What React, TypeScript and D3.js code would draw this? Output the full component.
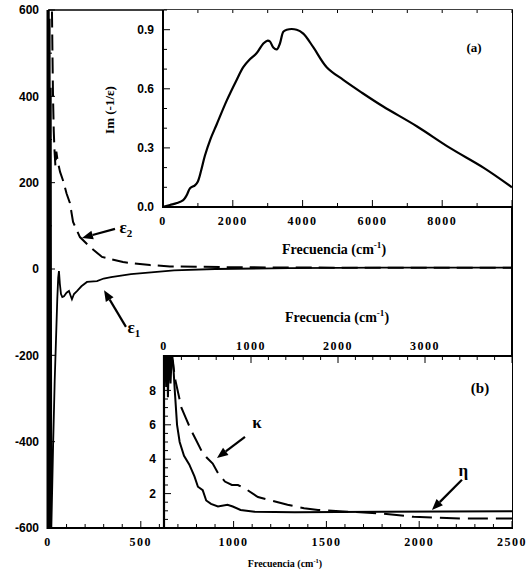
import * as d3 from "d3";

// main panel: real and imaginary parts of the dielectric function
const eps1: [number, number][] = [
  [0, -600], [3, 600], [6, -600], [9, 580], [12, -600], [15, 420], [18, -600],
  [28, -400], [36, -260], [43, -165], [50, -70], [55, -20], [59, -5], [64, -35],
  [70, -58], [77, -65], [86, -63], [100, -55], [113, -51], [122, -62], [129, -70],
  [140, -58], [156, -51], [180, -40], [210, -30], [264, -28], [300, -22], [340, -19],
  [447, -12], [571, -7], [679, -3], [900, 0], [1300, 2], [1800, 3], [2500, 3]
];

const eps2: [number, number][] = [
  [20, 650], [24, 500], [27, 400], [31, 320], [35, 275], [40, 238], [45, 272],
  [52, 250], [65, 225], [81, 205], [100, 175], [118, 153], [135, 109], [172, 74],
  [226, 51], [291, 28], [404, 16], [550, 9], [657, 6], [1000, 4], [1600, 3], [2500, 3]
];

// inset (a): loss function
const loss: [number, number][] = [
  [0, 0], [200, 0.01], [400, 0.02], [580, 0.035], [680, 0.06], [775, 0.095], [915, 0.11],
  [1000, 0.13], [1100, 0.19], [1200, 0.26], [1350, 0.34], [1540, 0.42], [1825, 0.54],
  [2110, 0.645], [2300, 0.71], [2490, 0.75], [2680, 0.78], [2875, 0.83], [3000, 0.845],
  [3065, 0.84], [3160, 0.81], [3260, 0.8], [3350, 0.83], [3450, 0.89], [3545, 0.9],
  [3830, 0.9], [4020, 0.88], [4310, 0.81], [4690, 0.71], [5165, 0.645], [5700, 0.58],
  [6310, 0.51], [7270, 0.41], [8220, 0.3], [9180, 0.2], [10000, 0.1]
];

// inset (b): optical constants
const eta: [number, number][] = [
  [15, 10.5], [25, 8.2], [35, 10.5], [45, 7.6], [60, 10.5], [75, 8.4], [90, 10.2],
  [105, 9.6], [125, 7.9], [150, 6.0], [180, 5.0], [230, 4.2], [290, 3.7], [350, 3.0],
  [390, 2.4], [445, 2.2], [485, 1.6], [540, 1.4], [620, 1.25], [730, 1.35], [790, 1.25],
  [880, 1.05], [1040, 0.95], [1500, 0.92], [2500, 0.95], [4000, 0.97]
];

const kappa: [number, number][] = [
  [60, 10.2], [100, 9.7], [130, 8.6], [165, 7.8], [200, 7.0], [250, 6.4], [310, 5.7],
  [370, 5.1], [430, 4.5], [490, 4.1], [560, 3.75], [620, 3.2], [700, 2.7], [780, 2.5],
  [850, 2.5], [960, 2.2], [1080, 1.8], [1230, 1.6], [1420, 1.35], [1610, 1.15],
  [1770, 1.05], [2110, 0.95], [2490, 0.85], [2870, 0.65], [3440, 0.55], [4000, 0.55]
];

const mainFreqTicks = [0, 500, 1000, 1500, 2000, 2500];
const mainValueTicks = [-600, -400, -200, 0, 200, 400, 600];
const lossFreqTicks = [0, 2000, 4000, 6000, 8000];
const lossTicks = [0, 0.3, 0.6, 0.9];
const indexFreqTicks = [0, 1000, 2000, 3000];
const indexTicks = [2, 4, 6, 8];

const serif = "'Liberation Serif', 'DejaVu Serif', serif";
const sans = "'Liberation Sans', Arial, sans-serif";

const xMain = d3.scaleLinear().domain([0, 2500]).range([48, 512]);
const yMain = d3.scaleLinear().domain([-600, 600]).range([528, 10]);
const xA = d3.scaleLinear().domain([0, 10000]).range([163, 512]);
const yA = d3.scaleLinear().domain([0, 1]).range([207, 10]);
const xB = d3.scaleLinear().domain([0, 4000]).range([164, 512]);
const yB = d3.scaleLinear().domain([0, 10]).range([528, 356]);

function path(
  data: [number, number][],
  x: d3.ScaleLinear<number, number>,
  y: d3.ScaleLinear<number, number>,
  curve: d3.CurveFactory = d3.curveLinear
): string {
  return (
    d3
      .line<[number, number]>()
      .curve(curve)
      .x((d) => x(d[0]))
      .y((d) => y(d[1]))(data) ?? ""
  );
}

function Arrow({ x1, y1, x2, y2 }: { x1: number; y1: number; x2: number; y2: number }) {
  const dx = x2 - x1;
  const dy = y2 - y1;
  const len = Math.hypot(dx, dy);
  const ux = dx / len;
  const uy = dy / len;
  const hl = 11;
  const hw = 4.5;
  const bx = x2 - ux * hl;
  const by = y2 - uy * hl;
  const pts = [
    [x2, y2],
    [bx - uy * hw, by + ux * hw],
    [bx + uy * hw, by - ux * hw]
  ]
    .map((p) => p.join(","))
    .join(" ");
  return (
    <g>
      <line x1={x1} y1={y1} x2={bx} y2={by} stroke="#000" strokeWidth={2.2} />
      <polygon points={pts} fill="#000" />
    </g>
  );
}

function FreqTitle({ x, y, size }: { x: number; y: number; size: number }) {
  return (
    <text
      x={x}
      y={y}
      textAnchor="middle"
      fontFamily={serif}
      fontWeight="bold"
      fontSize={size}
    >
      Frecuencia (cm
      <tspan fontSize={size * 0.65} dy={-size * 0.4}>
        -1
      </tspan>
      <tspan dy={size * 0.4}>)</tspan>
    </text>
  );
}

export default function App() {
  const mainMinorX = d3.range(0, 2501, 100);
  const mainMinorY = d3.range(-600, 601, 100);
  const aMinorX = d3.range(0, 10001, 1000);
  const aMinorY = d3.range(0, 1.001, 0.1);
  const bMinorX = d3.range(0, 4001, 200);
  const bMinorY = d3.range(0, 10.01, 0.5);

  return (
    <svg
      width={528}
      height={575}
      viewBox="0 0 528 575"
      style={{ position: "absolute", left: 0, top: 0, background: "#fff" }}
    >
      <defs>
        <clipPath id="clip-main">
          <rect x={48} y={10} width={464} height={518} />
        </clipPath>
        <clipPath id="clip-a">
          <rect x={163} y={10} width={349} height={197} />
        </clipPath>
        <clipPath id="clip-b">
          <rect x={164} y={356} width={348} height={172} />
        </clipPath>
      </defs>
      <rect width={528} height={575} fill="#fff" />

      {/* main panel curves */}
      <g clipPath="url(#clip-main)" fill="none" stroke="#000">
        <path d={path(eps1, xMain, yMain)} strokeWidth={1.8} />
        <path d={path(eps2, xMain, yMain)} strokeWidth={2} strokeDasharray="16 7" />
      </g>

      {/* main frame */}
      <line x1={48} x2={48} y1={10} y2={529} stroke="#000" strokeWidth={3} />
      <line x1={47} x2={513} y1={528} y2={528} stroke="#000" strokeWidth={2} />
      <line x1={48} x2={513} y1={10} y2={10} stroke="#000" strokeWidth={1.5} />
      <line x1={512} x2={512} y1={10} y2={529} stroke="#000" strokeWidth={2} />

      {mainMinorY.map((t) => (
        <line
          key={`my${t}`}
          x1={49}
          x2={49 + (t % 200 === 0 ? 6 : 3)}
          y1={yMain(t)}
          y2={yMain(t)}
          stroke="#000"
          strokeWidth={1}
        />
      ))}
      {mainMinorX.map((t) => (
        <line
          key={`mx${t}`}
          x1={xMain(t)}
          x2={xMain(t)}
          y1={527}
          y2={527 - (t % 500 === 0 ? 6 : 3)}
          stroke="#000"
          strokeWidth={1}
        />
      ))}
      {mainValueTicks.map((t) => (
        <text
          key={`mvl${t}`}
          x={39}
          y={yMain(t)}
          dy="0.35em"
          textAnchor="end"
          fontFamily={sans}
          fontWeight="bold"
          fontSize={12}
        >
          {t}
        </text>
      ))}
      {mainFreqTicks.map((t) => (
        <text
          key={`mfl${t}`}
          x={xMain(t)}
          y={546}
          textAnchor="middle"
          fontFamily={serif}
          fontWeight="bold"
          fontSize={12}
          letterSpacing={1.5}
        >
          {t}
        </text>
      ))}
      <FreqTitle x={285} y={567} size={10} />

      {/* inset (a) */}
      <rect x={163} y={10} width={349} height={197} fill="#fff" />
      <g clipPath="url(#clip-a)">
        <path
          d={path(loss, xA, yA, d3.curveCatmullRom)}
          fill="none"
          stroke="#000"
          strokeWidth={2.2}
        />
      </g>
      <line x1={163} x2={163} y1={10} y2={208} stroke="#000" strokeWidth={2} />
      <line x1={162} x2={513} y1={207} y2={207} stroke="#000" strokeWidth={2} />
      {aMinorY.map((t) => (
        <line
          key={`ay${t}`}
          x1={164}
          x2={164 + (Math.abs((t * 10) % 3) < 0.01 ? 6 : 3)}
          y1={yA(t)}
          y2={yA(t)}
          stroke="#000"
          strokeWidth={1}
        />
      ))}
      {aMinorX.map((t) => (
        <g key={`ax${t}`}>
          <line
            x1={xA(t)}
            x2={xA(t)}
            y1={206}
            y2={206 - (t % 2000 === 0 ? 6 : 3)}
            stroke="#000"
            strokeWidth={1}
          />
          <line x1={xA(t)} x2={xA(t)} y1={10} y2={13} stroke="#000" strokeWidth={1} />
        </g>
      ))}
      {lossTicks.map((t) => (
        <text
          key={`al${t}`}
          x={154}
          y={yA(t)}
          dy="0.35em"
          textAnchor="end"
          fontFamily={sans}
          fontWeight="bold"
          fontSize={12}
        >
          {t.toFixed(1)}
        </text>
      ))}
      {lossFreqTicks.map((t) => (
        <text
          key={`afl${t}`}
          x={xA(t)}
          y={225}
          textAnchor="middle"
          fontFamily={serif}
          fontWeight="bold"
          fontSize={12}
          letterSpacing={1.5}
        >
          {t}
        </text>
      ))}
      <FreqTitle x={334} y={254} size={14} />
      <text
        transform="translate(114,110) rotate(-90)"
        textAnchor="middle"
        fontFamily={serif}
        fontWeight="bold"
        fontSize={13}
      >
        Im (-1/ε)
      </text>
      <text x={474} y={52} textAnchor="middle" fontFamily={serif} fontWeight="bold" fontSize={13}>
        (a)
      </text>

      {/* inset (b) */}
      <rect x={164} y={356} width={348} height={172} fill="#fff" />
      <g clipPath="url(#clip-b)" fill="none" stroke="#000">
        <path d={path(eta, xB, yB)} strokeWidth={2} />
        <path d={path(kappa, xB, yB)} strokeWidth={2} strokeDasharray="20 8" />
      </g>
      <line x1={164} x2={164} y1={355} y2={529} stroke="#000" strokeWidth={2.2} />
      <line x1={163} x2={513} y1={356} y2={356} stroke="#000" strokeWidth={2} />
      <line x1={164} x2={513} y1={528} y2={528} stroke="#000" strokeWidth={2} />
      {bMinorY.map((t) => (
        <line
          key={`by${t}`}
          x1={165}
          x2={165 + (t % 2 === 0 ? 6 : 3)}
          y1={yB(t)}
          y2={yB(t)}
          stroke="#000"
          strokeWidth={1}
        />
      ))}
      {bMinorX.map((t) => (
        <line
          key={`bx${t}`}
          x1={xB(t)}
          x2={xB(t)}
          y1={357}
          y2={357 + (t % 1000 === 0 ? 6 : 3)}
          stroke="#000"
          strokeWidth={1}
        />
      ))}
      {mainMinorX
        .filter((t) => xMain(t) > 165)
        .map((t) => (
          <line
            key={`bbx${t}`}
            x1={xMain(t)}
            x2={xMain(t)}
            y1={527}
            y2={527 - (t % 500 === 0 ? 6 : 3)}
            stroke="#000"
            strokeWidth={1}
          />
        ))}
      {indexTicks.map((t) => (
        <text
          key={`bl${t}`}
          x={156}
          y={yB(t)}
          dy="0.35em"
          textAnchor="end"
          fontFamily={sans}
          fontWeight="bold"
          fontSize={12}
        >
          {t}
        </text>
      ))}
      {indexFreqTicks.map((t) => (
        <text
          key={`bfl${t}`}
          x={xB(t)}
          y={350}
          textAnchor="middle"
          fontFamily={serif}
          fontWeight="bold"
          fontSize={12}
          letterSpacing={1.5}
        >
          {t}
        </text>
      ))}
      <FreqTitle x={337} y={322} size={14} />
      <text x={480} y={393} textAnchor="middle" fontFamily={serif} fontWeight="bold" fontSize={15}>
        (b)
      </text>

      {/* annotations */}
      <Arrow x1={xMain(361)} y1={yMain(93)} x2={xMain(183)} y2={yMain(72)} />
      <text x={xMain(385)} y={yMain(84)} fontFamily={serif} fontWeight="bold" fontSize={17}>
        ε
        <tspan fontSize={11} dy={4}>
          2
        </tspan>
      </text>
      <Arrow x1={xMain(420)} y1={yMain(-134)} x2={xMain(302)} y2={yMain(-49)} />
      <text x={xMain(428)} y={yMain(-148)} fontFamily={serif} fontWeight="bold" fontSize={17}>
        ε
        <tspan fontSize={11} dy={4}>
          1
        </tspan>
      </text>
      <Arrow x1={xB(931)} y1={yB(5.3)} x2={xB(609)} y2={yB(4.07)} />
      <text
        x={xB(1069)}
        y={yB(5.8)}
        textAnchor="middle"
        fontFamily={serif}
        fontWeight="bold"
        fontSize={17}
      >
        κ
      </text>
      <Arrow x1={xB(3425)} y1={yB(2.8)} x2={xB(3080)} y2={yB(1.05)} />
      <text
        x={xB(3440)}
        y={yB(3.05)}
        textAnchor="middle"
        fontFamily={serif}
        fontWeight="bold"
        fontSize={17}
      >
        η
      </text>
    </svg>
  );
}
